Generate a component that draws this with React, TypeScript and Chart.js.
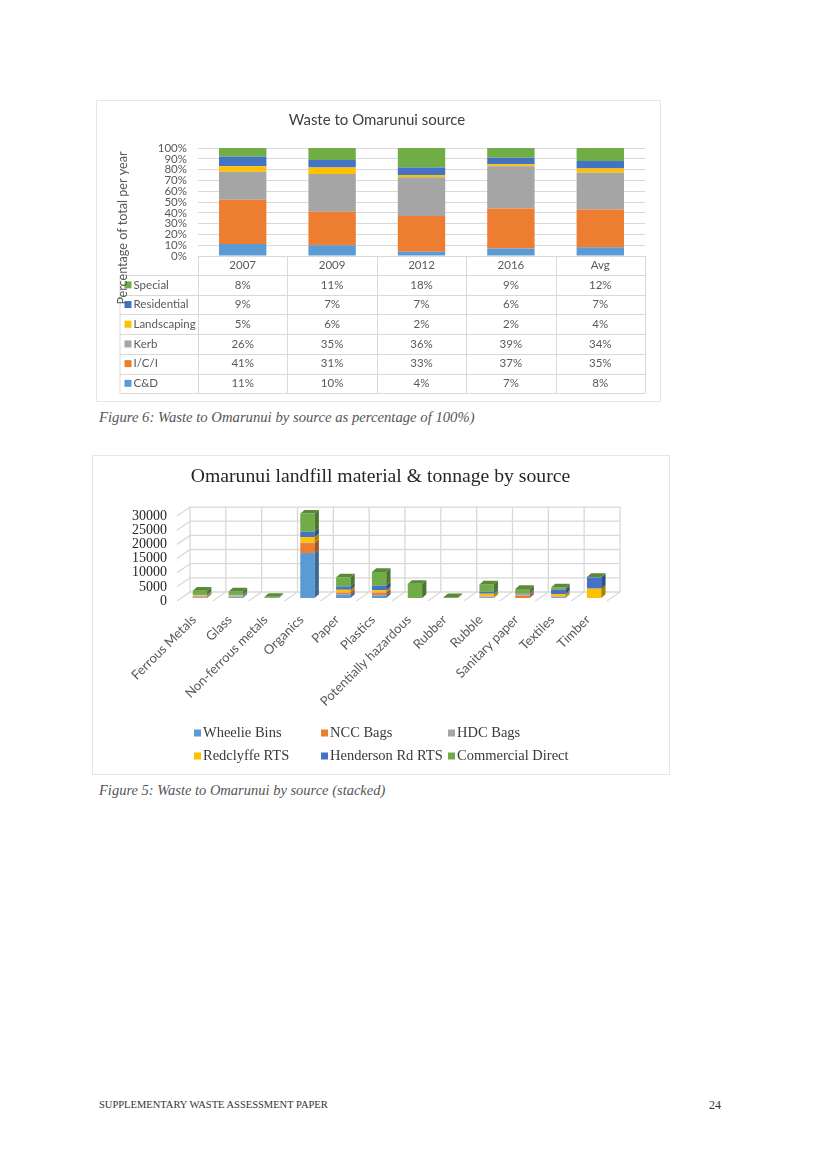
import React, { useEffect, useRef } from "react";
import { Chart, registerables } from "chart.js";

Chart.register(...registerables);

// ---------- Figure 6 data ----------
const shareTitle = "Waste to Omarunui source";
const shareYTitle = "Percentage of total per year";
const shareYears = ["2007", "2009", "2012", "2016", "Avg"];
const shareCD = [11, 10, 4, 7, 8];
const shareICI = [41, 31, 33, 37, 35];
const shareKerb = [26, 35, 36, 39, 34];
const shareLandscaping = [5, 6, 2, 2, 4];
const shareResidential = [9, 7, 7, 6, 7];
const shareSpecial = [8, 11, 18, 9, 12];

// ---------- Figure 5 data ----------
const tonTitle = "Omarunui landfill material & tonnage by source";
const materials = [
  "Ferrous Metals", "Glass", "Non-ferrous metals", "Organics", "Paper", "Plastics",
  "Potentially hazardous", "Rubber", "Rubble", "Sanitary paper", "Textiles", "Timber",
];
const wheelieBins = [100, 300, 10, 15900, 1200, 900, 0, 0, 300, 0, 300, 0];
const nccBags = [400, 200, 10, 3500, 700, 1000, 0, 0, 100, 800, 200, 0];
const hdcBags = [300, 400, 10, 100, 100, 100, 0, 0, 100, 600, 100, 0];
const redclyffe = [200, 100, 10, 2000, 900, 700, 0, 0, 1000, 0, 800, 3300];
const henderson = [100, 100, 10, 1900, 1200, 1700, 0, 0, 700, 100, 1500, 4000];
const commercial = [1500, 1200, 350, 6400, 3200, 4800, 5000, 300, 2600, 1700, 800, 100];

const BLUE = "#5B9BD5";
const ORANGE = "#ED7D31";
const GREY = "#A5A5A5";
const YELLOW = "#FFC000";
const NAVY = "#4472C4";
const GREEN = "#70AD47";
const SANS = "Lato";
const SERIF = "'Liberation Serif'";
const GRID = "#D9D9D9";
const TEXT = "#595959";

function shade(hex: string, f: number) {
  const n = parseInt(hex.slice(1), 16);
  const c = [(n >> 16) & 255, (n >> 8) & 255, n & 255].map((v) => Math.round(v * f));
  return `rgb(${c[0]},${c[1]},${c[2]})`;
}

const tablePlugin = {
  id: "dataTable",
  afterDraw(chart: any) {
    const { ctx, chartArea, scales } = chart;
    const rowH = 19.7;
    const headerBottom = chartArea.bottom + 19;
    const rows = chart.data.datasets.length;
    const left = 23.5;
    const right = chartArea.right;
    const bottom = headerBottom + rows * rowH;
    ctx.save();
    ctx.strokeStyle = GRID;
    ctx.lineWidth = 1;
    ctx.beginPath();
    ctx.moveTo(chartArea.left, chartArea.bottom + 0.5);
    ctx.lineTo(right, chartArea.bottom + 0.5);
    for (let i = 0; i <= rows; i++) {
      const y = Math.round(headerBottom + i * rowH) + 0.5;
      ctx.moveTo(left, y);
      ctx.lineTo(right, y);
    }
    const colW = (chartArea.right - chartArea.left) / shareYears.length;
    for (let i = 0; i <= shareYears.length; i++) {
      const x = Math.round(chartArea.left + i * colW) + 0.5;
      ctx.moveTo(x, chartArea.bottom);
      ctx.lineTo(x, bottom);
    }
    ctx.moveTo(left + 0.5, headerBottom);
    ctx.lineTo(left + 0.5, bottom);
    ctx.stroke();

    ctx.font = `11.5px ${SANS}`;
    ctx.textBaseline = "middle";
    chart.data.datasets
      .slice()
      .reverse()
      .forEach((ds: any, r: number) => {
        const y = headerBottom + (r + 0.5) * rowH;
        ctx.fillStyle = ds.backgroundColor;
        ctx.fillRect(left + 5, y - 3.5, 7, 7);
        ctx.fillStyle = TEXT;
        ctx.textAlign = "left";
        ctx.fillText(ds.label, left + 14, y);
        ctx.textAlign = "center";
        ds.data.forEach((v: number, c: number) => {
          ctx.fillText(`${v}%`, scales.x.getPixelForTick(c), y);
        });
      });

    ctx.translate(27, 128);
    ctx.rotate(-Math.PI / 2);
    ctx.textAlign = "center";
    ctx.font = `12.6px ${SANS}`;
    ctx.fillStyle = TEXT;
    ctx.fillText(shareYTitle, 0, 0);
    ctx.restore();
  },
};

const DEPTH_X = 4.3;
const DEPTH_Y = 3.7;

const wallPlugin = {
  id: "wall3d",
  beforeDatasetsDraw(chart: any) {
    const { ctx, chartArea, scales } = chart;
    const y = scales.y;
    const n = chart.data.labels.length;
    const cat = (chartArea.right - chartArea.left) / n;
    const backL = chartArea.left + 8;
    const frontL = chartArea.left - 5;
    const back0 = y.getPixelForValue(0) - 6;
    const front0 = y.getPixelForValue(0) + 3;
    const backTop = y.getPixelForValue(y.max) - 6;
    ctx.save();
    ctx.strokeStyle = GRID;
    ctx.lineWidth = 1.3;
    ctx.beginPath();
    y.ticks.forEach((t: any) => {
      const p = y.getPixelForValue(t.value);
      ctx.moveTo(frontL, p + 3);
      ctx.lineTo(backL, p - 6);
      ctx.lineTo(backL + n * cat, p - 6);
    });
    for (let i = 0; i <= n; i++) {
      ctx.moveTo(backL + i * cat, backTop);
      ctx.lineTo(backL + i * cat, back0);
      ctx.lineTo(frontL + i * cat, front0);
    }
    ctx.stroke();
    ctx.restore();
  },
  afterDatasetsDraw(chart: any) {
    const { ctx } = chart;
    const count = chart.data.labels.length;
    ctx.save();
    for (let j = 0; j < count; j++) {
      let top: any = null;
      chart.data.datasets.forEach((ds: any, i: number) => {
        if (!ds.data[j]) return;
        const b = chart.getDatasetMeta(i).data[j];
        const right = b.x + b.width / 2;
        ctx.fillStyle = shade(ds.backgroundColor, 0.68);
        ctx.beginPath();
        ctx.moveTo(right, b.base);
        ctx.lineTo(right + DEPTH_X, b.base - DEPTH_Y);
        ctx.lineTo(right + DEPTH_X, b.y - DEPTH_Y);
        ctx.lineTo(right, b.y);
        ctx.closePath();
        ctx.fill();
        top = { b, color: ds.backgroundColor };
      });
      if (top) {
        const { b, color } = top;
        const l = b.x - b.width / 2;
        const r = b.x + b.width / 2;
        ctx.fillStyle = shade(color, 0.8);
        ctx.beginPath();
        ctx.moveTo(l, b.y);
        ctx.lineTo(r, b.y);
        ctx.lineTo(r + DEPTH_X, b.y - DEPTH_Y);
        ctx.lineTo(l + DEPTH_X, b.y - DEPTH_Y);
        ctx.closePath();
        ctx.fill();
      }
    }
    ctx.restore();
  },
  afterDraw(chart: any) {
    const { ctx } = chart;
    const cols = [102, 229, 356];
    const rows = [278, 301];
    ctx.save();
    ctx.font = `14.5px ${SERIF}`;
    ctx.textBaseline = "middle";
    ctx.textAlign = "left";
    chart.data.datasets.forEach((ds: any, i: number) => {
      const x = cols[i % 3];
      const y = rows[Math.floor(i / 3)];
      ctx.fillStyle = ds.backgroundColor;
      ctx.fillRect(x, y - 3.5, 7, 7);
      ctx.fillStyle = "#3a3a3a";
      ctx.fillText(ds.label, x + 9, y);
    });
    ctx.restore();
  },
};

function ShareChart() {
  const ref = useRef<HTMLCanvasElement>(null);
  useEffect(() => {
    const mk = (label: string, data: number[], color: string) => ({
      label,
      data,
      backgroundColor: color,
      categoryPercentage: 1,
      barPercentage: 0.53,
    });
    const chart = new Chart(ref.current!, {
      type: "bar",
      data: {
        labels: shareYears,
        datasets: [
          mk("C&D", shareCD, BLUE),
          mk("I/C/I", shareICI, ORANGE),
          mk("Kerb", shareKerb, GREY),
          mk("Landscaping", shareLandscaping, YELLOW),
          mk("Residential", shareResidential, NAVY),
          mk("Special", shareSpecial, GREEN),
        ],
      },
      options: {
        responsive: false,
        animation: false,
        layout: { padding: { left: 13, right: 15 } },
        plugins: {
          legend: { display: false },
          tooltip: { enabled: false },
          title: {
            display: true,
            text: shareTitle,
            color: "#404040",
            font: { family: SANS, size: 15, weight: "normal", lineHeight: 1.2 },
            padding: { top: 11, bottom: 19 },
          },
        },
        scales: {
          x: {
            stacked: true,
            grid: { display: false, drawTicks: false },
            border: { display: false },
            ticks: { color: TEXT, font: { family: SANS, size: 11.5 }, padding: 2, maxRotation: 0 },
            afterFit: (s: any) => { s.height = 145; },
          },
          y: {
            stacked: true,
            min: 0,
            max: 100,
            grid: { color: GRID, drawTicks: false },
            border: { display: false },
            ticks: {
              stepSize: 10,
              autoSkip: false,
              color: TEXT,
              padding: 11,
              font: { family: SANS, size: 11.5 },
              callback: (v: any) => `${v}%`,
            },
            afterFit: (s: any) => { s.width = 89; },
          },
        },
      },
      plugins: [tablePlugin],
    } as any);
    return () => chart.destroy();
  }, []);
  return <canvas ref={ref} width={564} height={301} style={{ position: "absolute", left: 96, top: 100 }} />;
}

function TonnageChart() {
  const ref = useRef<HTMLCanvasElement>(null);
  useEffect(() => {
    const mk = (label: string, data: number[], color: string) => ({
      label,
      data,
      backgroundColor: color,
      categoryPercentage: 1,
      barPercentage: 0.4,
    });
    const chart = new Chart(ref.current!, {
      type: "bar",
      data: {
        labels: materials,
        datasets: [
          mk("Wheelie Bins", wheelieBins, BLUE),
          mk("NCC Bags", nccBags, ORANGE),
          mk("HDC Bags", hdcBags, GREY),
          mk("Redclyffe RTS", redclyffe, YELLOW),
          mk("Henderson Rd RTS", henderson, NAVY),
          mk("Commercial Direct", commercial, GREEN),
        ],
      },
      options: {
        responsive: false,
        animation: false,
        plugins: {
          legend: { display: false },
          tooltip: { enabled: false },
          title: {
            display: true,
            text: tonTitle,
            color: "#262626",
            font: { family: SERIF, size: 19.7, weight: "normal", lineHeight: 1.2 },
            padding: { top: 10, bottom: 24.4 },
          },
        },
        scales: {
          x: {
            stacked: true,
            grid: { display: false, drawTicks: false },
            border: { display: false },
            ticks: {
              color: TEXT,
              font: { family: SANS, size: 13 },
              minRotation: 45,
              maxRotation: 45,
              autoSkip: false,
              padding: 14,
              labelOffset: -6,
            },
            afterFit: (s: any) => { s.height = 176; },
          },
          y: {
            stacked: true,
            min: 0,
            max: 30000,
            grid: { display: false, drawTicks: false },
            border: { display: false },
            ticks: {
              stepSize: 5000,
              autoSkip: false,
              color: "#262626",
              padding: 15,
              labelOffset: 3,
              font: { family: SERIF, size: 14 },
              callback: (v: any) => String(v),
            },
            afterFit: (s: any) => { s.width = 90; },
          },
          rightGutter: {
            type: "linear",
            position: "right",
            grid: { display: false, drawTicks: false },
            border: { display: false },
            ticks: { display: false },
            afterFit: (s: any) => { s.width = 57; },
          },
        },
      },
      plugins: [wallPlugin],
    } as any);
    return () => chart.destroy();
  }, []);
  return <canvas ref={ref} width={577} height={319} style={{ position: "absolute", left: 92, top: 455 }} />;
}

const card = (left: number, top: number, width: number, height: number): React.CSSProperties => ({
  position: "absolute", left, top, width, height, boxSizing: "border-box", border: "1px solid #E6E6E6",
});

const note = (left: number, top: number, size: number): React.CSSProperties => ({
  position: "absolute", left, top, fontFamily: SERIF, fontSize: size, whiteSpace: "nowrap", lineHeight: 1,
});

export default function App() {
  return (
    <div style={{ position: "absolute", left: 0, top: 0, width: 821, height: 1160, background: "#fff", overflow: "hidden" }}>
      <div style={card(96, 100, 565, 302)} />
      <ShareChart />
      <div style={{ ...note(99, 410, 14.7), fontStyle: "italic", color: "#555" }}>
        Figure 6: Waste to Omarunui by source as percentage of 100%)
      </div>
      <div style={card(92, 455, 578, 320)} />
      <TonnageChart />
      <div style={{ ...note(99, 783, 14.5), fontStyle: "italic", color: "#555" }}>
        Figure 5: Waste to Omarunui by source (stacked)
      </div>
      <div style={{ ...note(99, 1100, 10.5), color: "#333" }}>SUPPLEMENTARY WASTE ASSESSMENT PAPER</div>
      <div style={{ ...note(709, 1099, 12), color: "#333" }}>24</div>
    </div>
  );
}
